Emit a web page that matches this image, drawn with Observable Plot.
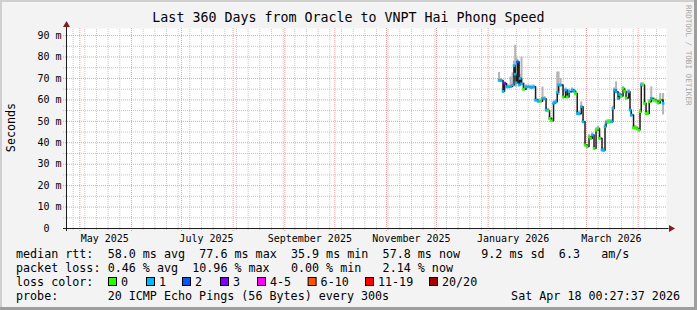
<!DOCTYPE html>
<html><head><meta charset="utf-8">
<script src="https://cdn.jsdelivr.net/npm/d3@7"></script>
<script src="https://cdn.jsdelivr.net/npm/@observablehq/plot@0.6"></script>
<style>
html,body{margin:0;padding:0;background:#f3f3f3;}
#wrap{position:relative;width:697px;height:310px;background:#f3f3f3;overflow:hidden;font-family:"DejaVu Sans Mono",monospace;}
#chart{position:absolute;left:0;top:0;}
#overlay{position:absolute;left:0;top:0;}
.edge{position:absolute;}
</style></head><body>
<div id="wrap">
<div class="edge" style="left:0;top:0;width:697px;height:2px;background:#cfcfcf"></div>
<div class="edge" style="left:0;top:0;width:2px;height:310px;background:#cfcfcf"></div>
<div class="edge" style="right:0;top:0;width:3px;height:310px;background:#9e9e9e"></div>
<div class="edge" style="left:0;bottom:0;width:697px;height:3px;background:#9e9e9e"></div>
<div id="chart"></div>
<svg id="overlay" width="697" height="310"></svg>
</div>
<script>
// ---- data ----
const times = [
"2026-01-07T13:00","2026-01-08T18:00","2026-01-09T23:00","2026-01-10T20:00","2026-01-12T01:00",
"2026-01-13T06:00","2026-01-14T11:00","2026-01-15T15:00","2026-01-16T13:00","2026-01-17T06:00",
"2026-01-17T18:00","2026-01-18T15:00","2026-01-19T13:00","2026-01-20T03:00","2026-01-21T01:00",
"2026-01-22T06:00","2026-01-23T18:00","2026-01-25T06:00","2026-01-26T18:00","2026-01-28T06:00",
"2026-01-29T11:00","2026-01-30T23:00","2026-02-01T11:00","2026-02-02T15:00","2026-02-03T20:00",
"2026-02-04T18:00","2026-02-05T23:00","2026-02-06T20:00","2026-02-08T01:00","2026-02-09T06:00",
"2026-02-10T11:00","2026-02-11T11:00","2026-02-12T06:00","2026-02-13T11:00","2026-02-14T23:00",
"2026-02-16T11:00","2026-02-17T11:00","2026-02-18T13:00","2026-02-20T08:00","2026-02-21T13:00",
"2026-02-22T11:00","2026-02-23T11:00","2026-02-24T13:00","2026-02-25T21:00","2026-02-26T23:00",
"2026-02-28T03:00","2026-03-01T08:00","2026-03-02T13:00","2026-03-03T11:00","2026-03-04T11:00",
"2026-03-05T13:00","2026-03-06T18:00","2026-03-07T23:00","2026-03-08T20:00","2026-03-10T08:00",
"2026-03-11T06:00","2026-03-12T03:00","2026-03-12T18:00","2026-03-13T23:00","2026-03-14T20:00",
"2026-03-16T01:00","2026-03-16T20:00","2026-03-17T16:00","2026-03-18T18:00","2026-03-19T23:00",
"2026-03-20T20:00","2026-03-21T18:00","2026-03-22T23:00","2026-03-23T20:00","2026-03-24T18:00",
"2026-03-26T06:00","2026-03-27T03:00","2026-03-27T21:00","2026-03-29T06:00","2026-03-30T11:00",
"2026-03-31T08:00","2026-04-01T13:00","2026-04-02T03:00","2026-04-02T21:00","2026-04-03T20:00",
"2026-04-04T20:00","2026-04-05T18:00","2026-04-06T15:00","2026-04-07T16:00","2026-04-08T21:00",
"2026-04-10T06:00","2026-04-11T18:00","2026-04-12T23:00","2026-04-14T06:00","2026-04-15T23:00"
];
const medianMs = [
69.2,69.0,64.0,67.7,66.1, 66.1,66.3,67.0,76.0,72.0, 68.0,77.7,67.0,70.0,67.5,
65.0,66.1,66.1,65.8,66.1, 59.9,59.4,59.4,60.7,60.5, 55.3,55.0,51.4,50.3,58.5,
59.1,63.5,67.0,66.9,61.4, 64.6,61.4,63.8,64.6,64.0, 63.0,53.7,53.5,56.8,49.8,
39.0,38.2,42.8,42.0,43.6, 37.4,45.9,46.7,42.1,36.7, 36.5,47.5,49.5,49.8,49.8,
49.8,56.0,64.6,63.8,60.7, 62.5,61.8,65.3,64.0,60.9, 63.8,55.3,52.9,47.0,47.0,
46.5,45.9,54.5,67.0,67.0, 58.4,53.7,53.7,59.1,60.7, 59.9,59.5,58.6,60.0,58.4
];
const lossIdx = [
1,1,1,3,1, 1,1,1,1,1, 1,2,1,1,1,
0,1,1,1,1, 1,1,0,1,1, 1,0,0,0,1,
1,1,1,1,0, 1,0,1,1,1, 0,1,1,1,1,
0,0,0,0,1, 0,0,0,0,1, 1,1,1,0,0,
1,1,1,1,1, 1,0,0,0,0, 1,1,1,0,0,
0,0,0,1,0, 0,0,0,0,1, 0,0,0,0,1
];
const smokeHi = [
72.8,70.0,68.0,68.5,67.0, 67.0,70.7,72.6,78.0,85.5, 80.0,79.0,78.0,72.0,80.0,
68.0,67.0,67.0,66.8,67.0, 61.0,60.4,60.4,66.0,61.5, 56.5,56.0,52.4,51.3,59.5,
60.1,73.0,73.0,70.0,62.4, 65.6,62.4,65.0,65.6,65.0, 64.0,55.0,54.5,59.1,50.8,
40.0,39.2,43.8,43.0,44.6, 38.4,46.9,47.7,43.1,37.7, 37.5,48.5,50.5,50.8,50.8,
50.8,57.0,65.6,68.4,61.7, 63.5,62.8,66.3,65.0,61.9, 64.8,56.3,53.9,48.0,48.0,
47.5,46.9,55.5,68.0,68.0, 59.4,54.7,54.7,60.1,66.1, 61.0,60.5,60.0,63.0,63.0
];
const smokeLo = [
68.2,68.0,63.0,66.7,65.1, 65.1,65.3,66.0,70.0,66.0, 66.0,70.0,66.0,68.0,66.5,
64.0,65.1,65.1,64.8,65.1, 58.9,58.4,58.4,59.7,59.5, 54.3,54.0,50.4,49.3,57.5,
58.1,62.0,62.0,65.9,60.4, 63.6,60.4,62.8,63.6,63.0, 62.0,52.7,52.5,55.8,48.8,
38.0,37.2,41.8,41.0,42.6, 36.4,44.9,45.7,41.1,35.7, 35.5,46.5,48.5,48.8,48.8,
48.8,55.0,63.6,62.8,59.7, 61.5,60.8,64.3,63.0,59.9, 62.8,54.3,51.9,46.0,46.0,
45.5,44.9,53.5,66.0,66.0, 57.4,52.7,52.7,58.1,59.7, 58.9,58.5,57.6,59.0,53.0
];
const yTicks = [0,10,20,30,40,50,60,70,80,90];
const xLabelDates = ["2025-05-16","2025-07-16","2025-09-16","2025-11-16","2026-01-16","2026-03-16"];
const lossLabels = ["0","1","2","3","4-5","6-10","11-19","20/20"];
const lossColors = ["#26ff00","#00b8ff","#0059ff","#7e00ff","#ff00ff","#ff5500","#ff0000","#a00000"];
const titleText = "Last 360 Days from Oracle to VNPT Hai Phong Speed";
const yLabelText = "Seconds";
const rttStats = ["58.0 ms avg","77.6 ms max","35.9 ms min","57.8 ms now","9.2 ms sd","6.3","am/s"];
const lossStats = ["0.46 % avg","10.96 % max","0.00 % min","2.14 % now"];
const probeText = "20 ICMP Echo Pings (56 Bytes) every 300s";
const stampText = "Sat Apr 18 00:27:37 2026";
const sideText = "RRDTOOL / TOBI OETIKER";

// ---- chart ----
const start = new Date("2025-04-23T00:27:37Z");
const end = new Date("2026-04-18T00:27:37Z");
const yTop = 93.3;
const DAY = 864e5;
const data = times.map((t, i) => ({date: new Date(t + ":00Z"), med: medianMs[i], loss: lossIdx[i], hi: smokeHi[i], lo: smokeLo[i]}));
const months = d3.utcMonth.range(start, end);
const monthSet = new Set(months.map(d => +d));
const weeks = d3.utcSunday.range(start, end).filter(d => !monthSet.has(+d));
const majorY = yTicks.filter(d => d > 0);
const minorY = majorY.map(d => d - 5);
const leftTick = new Date(+start - 1.8 * DAY);
const rightEnd = new Date(+end + 1.5 * DAY);
const arrowX = new Date(+end + 2.7 * DAY);
const minorCol = "#c4c4c4", majorCol = "#eaa0a0";

const chart = Plot.plot({
  width: 697, height: 245,
  marginLeft: 66, marginRight: 31, marginTop: 28, marginBottom: 17,
  style: {background: "transparent", fontFamily: "DejaVu Sans Mono", fontSize: "10px", color: "#000"},
  x: {type: "utc", domain: [start, end]},
  y: {domain: [0, yTop]},
  color: {type: "identity"},
  marks: [
    Plot.frame({fill: "white", stroke: null}),
    Plot.ruleX(weeks, {y1: -0.9, y2: yTop, stroke: minorCol, strokeDasharray: "1,1"}),
    Plot.ruleY(minorY, {x1: leftTick, x2: end, stroke: minorCol, strokeDasharray: "1,1"}),
    Plot.ruleX(months, {y1: -1.4, y2: yTop, stroke: majorCol, strokeDasharray: "1,1"}),
    Plot.ruleY(majorY, {x1: leftTick, x2: end, stroke: majorCol, strokeDasharray: "1,1"}),
    Plot.ruleX(data, {x: "date", y1: "lo", y2: "hi", stroke: "#b4b4b4", strokeWidth: 2}),
    Plot.line(data, {x: "date", y: "med", curve: "step-after", stroke: "#1e1e1e", strokeWidth: 1.5}),
    Plot.dot(data, {x: "date", y: "med", symbol: "square", r: 1.5, fill: d => lossColors[d.loss], stroke: null}),
    Plot.ruleY([0], {x1: leftTick, x2: rightEnd, stroke: "#1f1f1f"}),
    Plot.ruleX([start], {y1: -1.4, y2: yTop + 1, stroke: "#1f1f1f"}),
    Plot.dot([0], {x: () => arrowX, y: () => 0, symbol: "triangle", rotate: 90, r: 2.6, fill: "#7f1f1f", stroke: null}),
    Plot.dot([0], {x: () => start, y: () => yTop + 1.6, symbol: "triangle", r: 2.6, fill: "#7f1f1f", stroke: null}),
    Plot.axisY(yTicks, {tickSize: 0, tickPadding: 5, tickFormat: d => d === 0 ? "0\u00a0\u00a0" : d + " m", label: null, fill: "#000"}),
    Plot.axisX(xLabelDates.map(d => new Date(d + "T00:00:00Z")), {tickSize: 0, tickPadding: 6, tickFormat: d3.utcFormat("%B %Y"), label: null, fill: "#000"})
  ]
});
document.getElementById("chart").appendChild(chart);

// ---- texts and legend ----
const ov = d3.select("#overlay").style("font-family", "DejaVu Sans Mono");
function txt(x, y, s, size, opts = {}) {
  const t = ov.append("text").attr("x", x).attr("y", y).attr("font-size", size).attr("fill", opts.fill || "#000")
    .attr("text-anchor", opts.anchor || "start").attr("xml:space", "preserve").text(s);
  if (opts.rotate) t.attr("transform", `rotate(${opts.rotate},${x},${y})`);
  return t;
}
txt(348.5, 22, titleText, "13.3px", {anchor: "middle"});
txt(14.5, 127.5, yLabelText, "11.7px", {anchor: "middle", rotate: -90});
txt(685.5, 5, sideText, "7.6px", {fill: "#a8a8a8", rotate: 90});

const fs = "11.7px";
const cw = 7.05;               // monospace character advance
const col = c => 16 + c * cw;  // legend column to x
txt(col(0), 258, "median rtt:", fs);
const rttCols = [13, 26, 39, 52, 66, 77, 83];
rttStats.forEach((s, i) => txt(col(rttCols[i]), 258, s, fs));
txt(col(0), 272, "packet loss:", fs);
const lossCols = [13, 25, 39, 52];
lossStats.forEach((s, i) => txt(col(lossCols[i]), 272, s, fs));
txt(col(0), 286, "loss color:", fs);
const boxX = [108, 146, 182, 220, 257, 307.6, 365, 429];
lossLabels.forEach((s, i) => {
  ov.append("rect").attr("x", boxX[i] + 0.5).attr("y", 277.5).attr("width", 8).attr("height", 8)
    .attr("fill", lossColors[i]).attr("stroke", "#000").attr("stroke-width", 1);
  txt(boxX[i] + 13, 286, s, fs);
});
txt(col(0), 300, "probe:", fs);
txt(col(13), 300, probeText, fs);
txt(680, 300, stampText, fs, {anchor: "end"});
</script>
</body></html>
